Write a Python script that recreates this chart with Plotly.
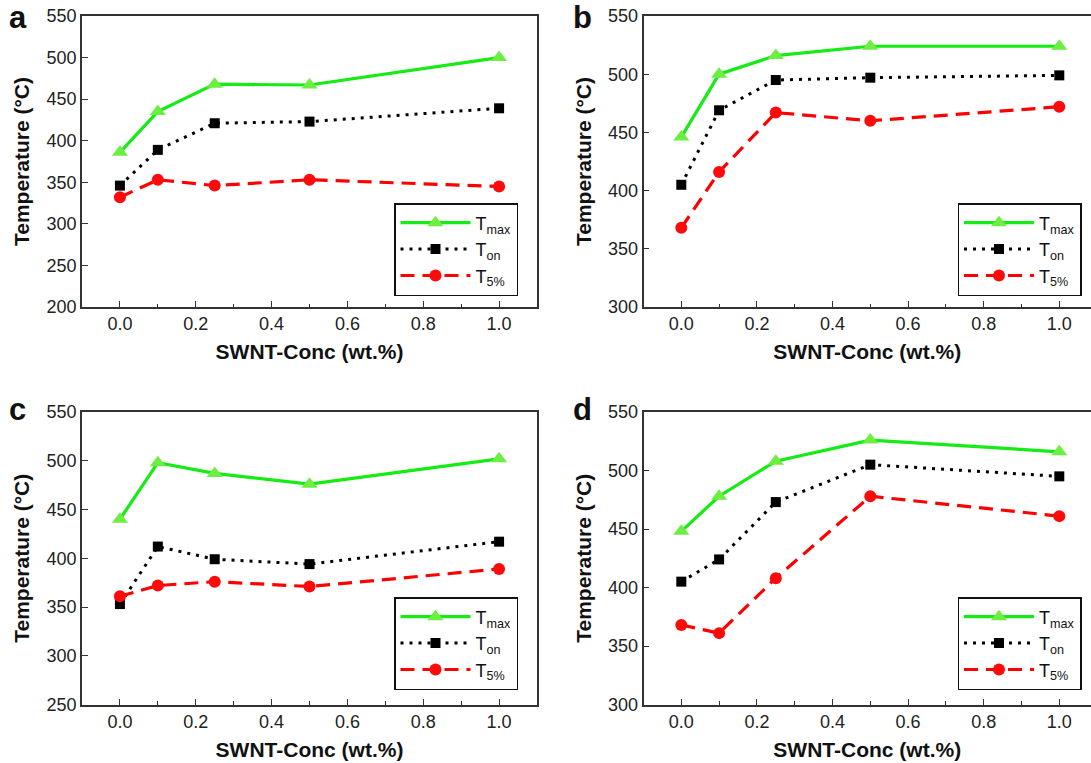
import plotly.graph_objects as go

# ---------------- data ----------------
conc = [0.0, 0.1, 0.25, 0.5, 1.0]

a_tmax = [386, 435, 468, 467, 500]
a_ton = [346, 389, 421, 423, 439]
a_t5 = [332, 353, 346, 353, 345]

b_tmax = [446, 500, 516, 524, 524]
b_ton = [405, 469, 495, 497, 499]
b_t5 = [368, 416, 467, 460, 472]

c_tmax = [440, 498, 487, 476, 502]
c_ton = [353, 412, 399, 394, 417]
c_t5 = [361, 372, 376, 371, 389]

d_tmax = [448, 478, 508, 526, 516]
d_ton = [405, 424, 473, 505, 495]
d_t5 = [368, 361, 408, 478, 461]

series_names = ["T<sub>max</sub>", "T<sub>on</sub>", "T<sub>5%</sub>"]
panel_letters = ["a", "b", "c", "d"]
y_ranges = [[200, 550], [300, 550], [250, 550], [300, 550]]
x_tick_vals = [0.0, 0.2, 0.4, 0.6, 0.8, 1.0]
x_tick_text = ["0.0", "0.2", "0.4", "0.6", "0.8", "1.0"]

panels = [
    (a_tmax, a_ton, a_t5),
    (b_tmax, b_ton, b_t5),
    (c_tmax, c_ton, c_t5),
    (d_tmax, d_ton, d_t5),
]

# ---------------- geometry ----------------
W, H = 1091, 763
FONT = "Liberation Sans, Arial, sans-serif"


def px_x(v):
    return v / W


def px_y(v):
    return 1 - v / H


left_cols = [(82, 537), (643.5, 1091)]
rows = [(16, 307), (412, 704.5)]
x_ranges = [[-0.1, 1.1], [-0.1, -0.1 + 447.5 / 378]]

styles = [
    dict(line=dict(color="#14ec14", width=3.2, dash="solid"),
         marker=dict(symbol="triangle-up", size=14, color="#6cee42")),
    dict(line=dict(color="#000000", width=3, dash="3px,6px"),
         marker=dict(symbol="square", size=10, color="#000000")),
    dict(line=dict(color="#ff0000", width=3.2, dash="14px,8px"),
         marker=dict(symbol="circle", size=12, color="#ff0a0a")),
]

fig = go.Figure()
layout = dict(
    template="none",
    width=W, height=H,
    margin=dict(l=0, r=0, t=0, b=0, pad=0, autoexpand=False),
    paper_bgcolor="white", plot_bgcolor="white",
    font=dict(family=FONT, color="#111111", size=18),
    annotations=[],
)

for i, (vals, letter, yr) in enumerate(zip(panels, panel_letters, y_ranges)):
    col, row = i % 2, i // 2
    xl, xr = left_cols[col]
    yt, yb = rows[row]
    sfx = "" if i == 0 else str(i + 1)
    leg = "legend" if i == 0 else f"legend{i + 1}"
    for name, yv, st in zip(series_names, vals, styles):
        fig.add_trace(go.Scatter(
            x=conc, y=yv, mode="lines+markers", name=name,
            line=st["line"], marker=st["marker"],
            xaxis="x" + sfx, yaxis="y" + sfx, legend=leg,
            showlegend=True, cliponaxis=False,
        ))
    right_visible = col == 0
    layout["xaxis" + sfx] = dict(
        domain=[px_x(xl), px_x(xr)], anchor="y" + sfx, automargin=False,
        range=x_ranges[col], tickvals=x_tick_vals, ticktext=x_tick_text,
        ticks="inside", ticklen=6, tickwidth=1.3, tickcolor="#333333",
        minor=dict(tickvals=[0.1, 0.3, 0.5, 0.7, 0.9], ticks="inside",
                   ticklen=3.5, tickwidth=1.2, tickcolor="#333333"),
        showline=True, linecolor="#333333", linewidth=1.5, mirror=True,
        showgrid=False, zeroline=False,
        tickfont=dict(family=FONT, size=18, color="#222222"),
        title=dict(text="SWNT-Conc (wt.%)", standoff=11,
                   font=dict(family=FONT, size=21, weight="bold", color="#111111")),
    )
    layout["yaxis" + sfx] = dict(
        domain=[px_y(yb), px_y(yt)], anchor="x" + sfx, automargin=False,
        range=yr, dtick=50,
        ticks="inside", ticklen=6, tickwidth=1.3, tickcolor="#333333",
        showline=True, linecolor="#333333", linewidth=1.5,
        mirror=True if right_visible else False,
        showgrid=False, zeroline=False,
        tickfont=dict(family=FONT, size=18, color="#222222"),
        title=dict(text="Temperature (°C)", standoff=11,
                   font=dict(family=FONT, size=21, weight="bold", color="#111111")),
    )
    # legend box at lower right of the panel
    lx = 394 if col == 0 else 957.5
    ly = 203 if row == 0 else 597
    layout[leg] = dict(
        x=px_x(lx), y=px_y(ly), xanchor="left", yanchor="top",
        xref="paper", yref="paper",
        bgcolor="white", bordercolor="#111111", borderwidth=1.5,
        font=dict(family=FONT, size=18, color="#111111"),
        itemwidth=70, tracegroupgap=0,
        entrywidth=106, entrywidthmode="pixels",
    )
    # panel letter
    layout["annotations"].append(dict(
        text=f"<b>{letter}</b>", xref="paper", yref="paper",
        x=px_x(7 if col == 0 else 571), y=px_y(18 if row == 0 else 409),
        xanchor="left", yanchor="middle", showarrow=False,
        font=dict(family=FONT, size=31, color="#111111"),
    ))

fig.update_layout(**layout)
fig.write_html("out.html",
               config={"displayModeBar": False},
               post_script="document.body.style.margin='0';document.body.style.overflow='hidden';")
